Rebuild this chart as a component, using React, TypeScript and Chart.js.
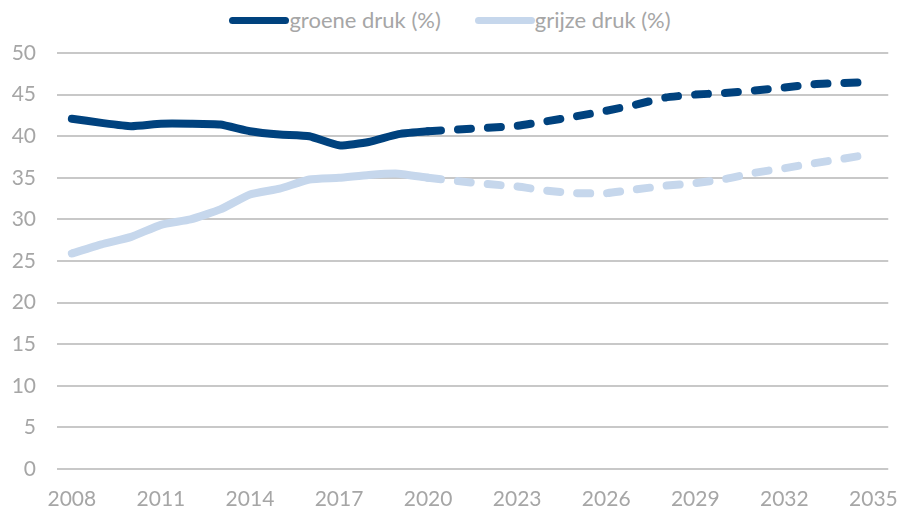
import React, { useEffect, useRef } from "react";
import { Chart, registerables } from "chart.js";

Chart.register(...registerables);

const years: string[] = [
  "2008", "2009", "2010", "2011", "2012", "2013", "2014", "2015", "2016", "2017",
  "2018", "2019", "2020", "2021", "2022", "2023", "2024", "2025", "2026", "2027",
  "2028", "2029", "2030", "2031", "2032", "2033", "2034", "2035",
];
const tickYears: string[] = ["2008", "2011", "2014", "2017", "2020", "2023", "2026", "2029", "2032", "2035"];

const groeneDruk: number[] = [
  42.1, 41.6, 41.2, 41.5, 41.5, 41.4, 40.6, 40.2, 40.0, 38.9,
  39.3, 40.25, 40.6, 40.8, 41.0, 41.25, 41.8, 42.4, 43.05, 43.8,
  44.65, 45.0, 45.2, 45.5, 45.85, 46.25, 46.4, 46.5,
];
const grijzeDruk: number[] = [
  25.9, 27.0, 27.9, 29.35, 30.0, 31.2, 33.0, 33.7, 34.8, 35.0,
  35.35, 35.5, 35.0, 34.6, 34.25, 33.95, 33.45, 33.15, 33.15, 33.6,
  34.05, 34.35, 34.85, 35.6, 36.15, 36.75, 37.3, 37.9,
];
const seriesNames: string[] = ["groene druk (%)", "grijze druk (%)"];
const seriesColors: string[] = ["#00427e", "#c6d7ec"];
const forecastFrom = 12; // index of 2020: dashed afterwards

const FONT = "Lato, 'Open Sans', sans-serif";
const GREY = "#a6a6a6";

export default function App() {
  const ref = useRef<HTMLCanvasElement | null>(null);

  useEffect(() => {
    if (!ref.current) return;
    const dash = (ctx: any) => (ctx.p0DataIndex >= forecastFrom ? [13, 17] : undefined);
    const mk = (label: string, data: number[], color: string) => ({
      label,
      data,
      borderColor: color,
      backgroundColor: color,
      borderWidth: 8,
      borderCapStyle: "round" as const,
      borderJoinStyle: "round" as const,
      pointRadius: 0,
      tension: 0.15,
      fill: false,
      segment: { borderDash: dash },
    });
    const chart = new Chart(ref.current, {
      type: "line",
      data: {
        labels: years,
        datasets: [
          mk(seriesNames[0], groeneDruk, seriesColors[0]),
          mk(seriesNames[1], grijzeDruk, seriesColors[1]),
        ],
      },
      options: {
        animation: false,
        responsive: true,
        maintainAspectRatio: false,
        layout: { padding: { top: 53, right: 13, left: 0, bottom: 0 } },
        plugins: { legend: { display: false }, tooltip: { enabled: false } },
        scales: {
          x: {
            type: "category",
            offset: true,
            grid: { display: false, drawTicks: false },
            border: { display: false },
            ticks: {
              autoSkip: false,
              maxRotation: 0,
              padding: 18,
              color: GREY,
              font: { family: FONT, size: 21 },
              callback: function (this: any, val: any) {
                const l = this.getLabelForValue(val);
                return tickYears.includes(l) ? l : "";
              },
            },
            afterFit: (s: any) => {
              s.height = 46;
            },
          },
          y: {
            min: 0,
            max: 50,
            grid: { color: "#c8c8c8", lineWidth: 2, drawTicks: false },
            border: { display: false },
            ticks: {
              stepSize: 5,
              padding: 21,
              color: GREY,
              font: { family: FONT, size: 21 },
            },
            afterFit: (s: any) => {
              s.width = 57;
            },
          },
        },
      },
    });
    return () => chart.destroy();
  }, []);

  return (
    <div style={{ position: "absolute", left: 0, top: 0, width: 916, height: 515, background: "#fff" }}>
      <div
        style={{
          position: "absolute",
          left: 0,
          top: 7,
          width: 900,
          display: "flex",
          justifyContent: "center",
          alignItems: "center",
          fontFamily: FONT,
          fontSize: 22,
          color: GREY,
          lineHeight: "26px",
        }}
      >
        {seriesNames.map((n, i) => (
          <div key={n} style={{ display: "flex", alignItems: "center", marginLeft: i ? 34 : 0 }}>
            <span
              style={{
                display: "inline-block",
                width: 60,
                height: 7,
                borderRadius: 4,
                background: seriesColors[i],
              }}
            />
            <span>{n}</span>
          </div>
        ))}
      </div>
      <canvas ref={ref} style={{ position: "absolute", left: 0, top: 0 }} />
    </div>
  );
}
